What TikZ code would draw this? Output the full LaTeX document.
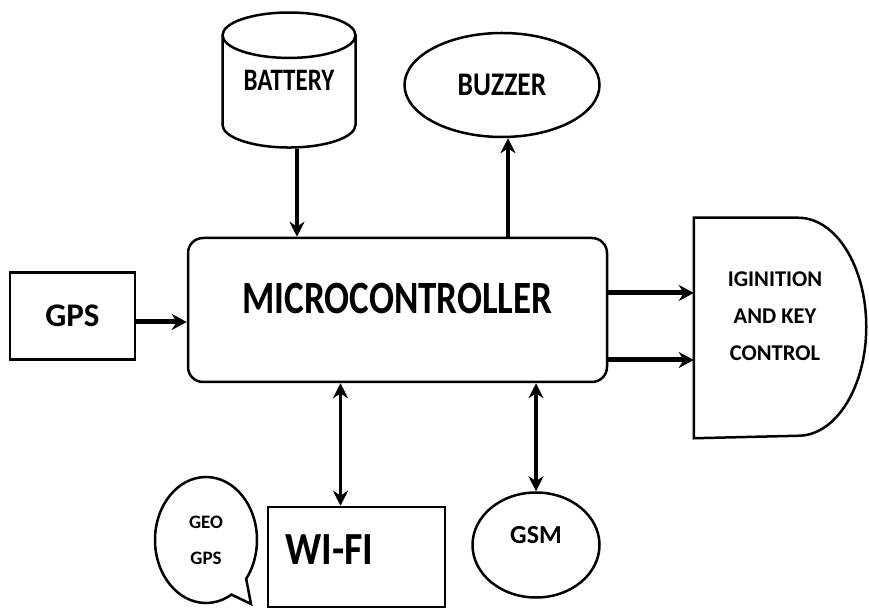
\documentclass[tikz,border=0pt]{standalone}
\usepackage{fontspec}
\setmainfont{Carlito}
\usepackage{graphicx}
\usetikzlibrary{positioning,shapes.geometric,shapes.callouts,arrows.meta}
\newcommand{\tallt}[2][1.25]{\scalebox{1}[#1]{#2}}

\begin{document}
\begin{tikzpicture}[x=1pt, y=1pt, line width=2.5pt,
  every node/.style={font=\bfseries},
  blk/.style={draw, line width=2.5pt, inner sep=0pt},
  arr/.style={line width=3.5pt, -{Stealth[length=15pt,width=15pt]}},
  darr/.style={line width=3.5pt, {Stealth[length=15pt,width=15pt]}-{Stealth[length=15pt,width=15pt]}},
  fatarr/.style={line width=5pt, -{Stealth[length=15pt,width=16pt]}}]
  \useasboundingbox (0,0) rectangle (869,610);

  % Bloque central
  \node[blk, rounded corners=15pt, minimum width=419pt, minimum height=144pt,
    label={[yshift=12pt, font=\bfseries\fontsize{37}{37}\selectfont]center:\tallt{MICROCONTROLLER}}] (micro) at (397.5,300) {};

  % Arriba
  \node[blk, cylinder, shape border rotate=90, aspect=0.5, minimum width=133pt, minimum height=135pt,
    font=\bfseries\fontsize{25}{25}\selectfont] (battery) at (289,518) {\raisebox{24pt}{\tallt{BATTERY}}};
  \node[blk, ellipse, minimum width=195pt, minimum height=104pt,
    font=\bfseries\fontsize{27.5}{27.5}\selectfont] (buzzer) at (502,525) {\tallt[1.2]{BUZZER}};

  % Izquierda
  \node[blk, minimum width=125pt, minimum height=87pt,
    font=\bfseries\fontsize{33}{33}\selectfont] (gps) at (72.5,294) {GPS};

  % Derecha
  \node[minimum width=102pt, minimum height=218pt, inner sep=0pt] (ign) at (746,282) {};
  \draw (ign.north west) -- (ign.north east)
    arc[start angle=90, end angle=-90, x radius=68, y radius=109] -- (ign.south west) -- cycle;
  \node[align=center, font=\bfseries\fontsize{22.5}{37}\selectfont] (igntxt) at (775,294)
    {IGINITION\\AND KEY\\CONTROL};

  % Abajo
  \node[blk, minimum width=177pt, minimum height=100pt,
    label={[xshift=-27pt, yshift=7pt, font=\bfseries\fontsize{40}{40}\selectfont]center:\tallt[1.15]{WI-FI}}] (wifi) at (356.5,53) {};
  \node[blk, ellipse callout, minimum width=102pt, minimum height=126pt,
    callout absolute pointer={(251,6)}, callout pointer arc=22, align=center,
    font=\bfseries\fontsize{19}{36}\selectfont] (geo) at (206,70) {GEO\\GPS};
  \node[blk, ellipse, minimum width=127pt, minimum height=105pt,
    label={[yshift=10pt, font=\bfseries\fontsize{26}{26}\selectfont]center:GSM}] (gsm) at (536,65) {};

  % Flechas
  \coordinate (bat) at ([xshift=8pt]battery.south);
  \draw[arr] (bat) -- (micro.north -| bat);
  \coordinate (bz) at ([xshift=6pt]buzzer.south);
  \draw[arr] (micro.north -| bz) -- (bz);
  \coordinate (g) at ([yshift=-6pt]gps.east);
  \draw[fatarr] (g) -- (micro.west |- g);
  \coordinate (o1) at ([yshift=17pt]micro.east);
  \coordinate (o2) at ([yshift=-50pt]micro.east);
  \foreach \i in {1,2}
  \draw[fatarr] (o\i) -- (ign.west |- o\i);
  \coordinate (w) at ([xshift=-16pt]wifi.north);
  \draw[darr] (micro.south -| w) -- (w);
  \draw[darr] (micro.south -| gsm.north) -- (gsm.north);

\end{tikzpicture}
\end{document}
